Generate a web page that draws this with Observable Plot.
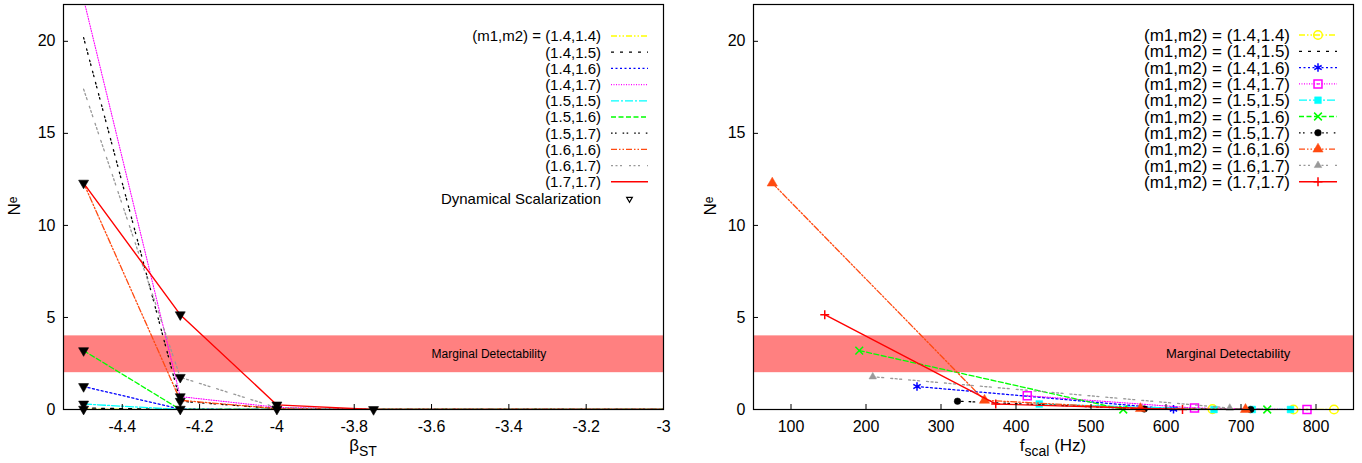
<!DOCTYPE html>
<html><head><meta charset="utf-8">
<script src="https://cdn.jsdelivr.net/npm/d3@7"></script>
<script src="https://cdn.jsdelivr.net/npm/@observablehq/plot@0.6"></script>
<style>
body{margin:0;background:#fff;}
#wrap{display:flex;width:1362px;height:463px;overflow:hidden;}
svg text{font-family:"Liberation Sans",Arial,Helvetica,sans-serif;}
</style></head><body><div id="wrap"></div>
<script>
// ---------- data ----------
const massPairs = ["(1.4,1.4)","(1.4,1.5)","(1.4,1.6)","(1.4,1.7)","(1.5,1.5)","(1.5,1.6)","(1.5,1.7)","(1.6,1.6)","(1.6,1.7)","(1.7,1.7)"];

// left panel: N_e versus beta_ST
const betaValues = [-4.5, -4.25, -4, -3.75, -3.5, -3.25, -3];
const neBeta_14_14 = [0.02, 0, 0, 0, 0, 0, 0];
const neBeta_14_15 = [0.08, 0, 0, 0, 0, 0, 0];
const neBeta_14_16 = [1.25, 0.02, 0, 0, 0, 0, 0];
const neBeta_14_17 = [22.3, 0.7, 0.12, 0, 0, 0, 0];
const neBeta_15_15 = [0.3, 0, 0, 0, 0, 0, 0];
const neBeta_15_16 = [3.2, 0, 0, 0, 0, 0, 0];
const neBeta_15_17 = [20.2, 0.45, 0.05, 0, 0, 0, 0];
const neBeta_16_16 = [12.3, 0.5, 0.05, 0, 0, 0, 0];
const neBeta_16_17 = [17.4, 1.75, 0.1, 0, 0, 0, 0];
const neBeta_17_17 = [12.3, 5.15, 0.25, 0, 0, 0, 0];

// dynamical scalarization points (left panel)
const dynBeta = [-4.5, -4.5, -4.5, -4.5, -4.5, -4.25, -4.25, -4.25, -4.25, -4.25, -4, -4, -3.75];
const dynNe   = [12.3, 3.2, 1.25, 0.3, 0.02, 5.15, 1.75, 0.7, 0.45, 0.02, 0.25, 0.02, 0];

// right panel: N_e versus f_scal (Hz)
const fscal_14_14 = [662, 770, 824];      const neF_14_14 = [0.02, 0, 0];
const fscal_14_15 = [600, 740];           const neF_14_15 = [0.08, 0];
const fscal_14_16 = [268, 610];           const neF_14_16 = [1.25, 0.02];
const fscal_14_17 = [415, 638, 788];      const neF_14_17 = [0.75, 0.08, 0];
const fscal_15_15 = [431, 664, 715, 766]; const neF_15_15 = [0.3, 0, 0, 0];
const fscal_15_16 = [191, 543, 735];      const neF_15_16 = [3.2, 0, 0];
const fscal_15_17 = [322, 571, 713];      const neF_15_17 = [0.45, 0.03, 0];
const fscal_16_16 = [75, 358, 566, 706];  const neF_16_16 = [12.3, 0.5, 0.05, 0];
const fscal_16_17 = [209, 685];           const neF_16_17 = [1.78, 0.08];
const fscal_17_17 = [145, 373, 622];      const neF_17_17 = [5.15, 0.3, 0];

const bandRange = [2, 4];
const bandLabel = "Marginal Detectability";
const betaTicks = [-4.4, -4.2, -4, -3.8, -3.6, -3.4, -3.2, -3];
const fTicks = [100, 200, 300, 400, 500, 600, 700, 800];
const neTicks = [0, 5, 10, 15, 20];

// ---------- styles ----------
const colors = ["#ffff00","#000000","#0000ff","#ff00ff","#00ffff","#00ff00","#000000","#ff4a10","#999999","#ff0000"];
const dashes = ["6,2,1.5,2,1.5,2","3,6","2,2.5","1,1.5","8,2,2,2","5,2.5","1.6,2.4,1.6,6","6,2,1.5,2,1.5,2","2,2.5,2,2.5,2,7",null];
const widths = [1.3,1.3,1.3,1.1,1.3,1.3,1.3,1.3,1.3,1.4];
const markers = [
  {s:"circle", r:4.3, fill:"none"}, null,
  {s:"asterisk", r:4.0, fill:"none"},
  {s:"square", r:4.5, fill:"none", dot:true},
  {s:"square", r:3.8, fill:"fill"},
  {s:"times", r:3.6, fill:"none"},
  {s:"circle", r:3.3, fill:"fill"},
  {s:"triangle", r:3.8, fill:"fill"},
  {s:"triangle", r:2.8, fill:"fill"},
  {s:"plus", r:3.0, fill:"none"}
];

const neBetaAll = [neBeta_14_14,neBeta_14_15,neBeta_14_16,neBeta_14_17,neBeta_15_15,neBeta_15_16,neBeta_15_17,neBeta_16_16,neBeta_16_17,neBeta_17_17];
const fAll = [fscal_14_14,fscal_14_15,fscal_14_16,fscal_14_17,fscal_15_15,fscal_15_16,fscal_15_17,fscal_16_16,fscal_16_17,fscal_17_17];
const neFAll = [neF_14_14,neF_14_15,neF_14_16,neF_14_17,neF_15_15,neF_15_16,neF_15_17,neF_16_16,neF_16_17,neF_17_17];

const FONT = "Liberation Sans, Arial, Helvetica, sans-serif";
const d3Sym = {circle:d3.symbolCircle, asterisk:d3.symbolAsterisk, square:d3.symbolSquare, times:d3.symbolTimes, triangle:d3.symbolTriangle, plus:d3.symbolPlus};

function commonMarks(labelX, labelSize){
  return [
    Plot.rect([bandRange], {y1: d => d[0], y2: d => d[1], fill: "#ff8080"}),
    Plot.text([bandLabel], {x: labelX, y: (bandRange[0]+bandRange[1])/2, text: d => d, textAnchor: "start", fontSize: labelSize, fill: "black"})
  ];
}
function axes(xt, fs){
  return [
    Plot.axisX({ticks: xt, tickSize: -5, tickPadding: 16, tickFormat: d => String(d), label: null, fontSize: fs}),
    Plot.axisY({ticks: neTicks, tickSize: -5, tickPadding: 13, tickFormat: d => String(d), label: null, fontSize: fs}),
    Plot.frame({stroke: "black", strokeWidth: 1.2})
  ];
}

// ---------- left panel ----------
const leftMarks = [...commonMarks(-3.6, 12)];
massPairs.forEach((m, i) => {
  const rows = betaValues.map((b, j) => ({x: b, y: neBetaAll[i][j]}));
  leftMarks.push(Plot.line(rows, {x: "x", y: "y", stroke: colors[i], strokeDasharray: dashes[i], strokeWidth: widths[i], clip: true}));
});
const dynRows = dynBeta.map((b, j) => ({x: b, y: dynNe[j]}));
leftMarks.push(Plot.dot(dynRows, {x: "x", y: "y", symbol: "triangle", r: 3.7, fill: "black", stroke: "black", strokeWidth: 0.6, rotate: 180}));
leftMarks.push(...axes(betaTicks, 16));

const left = Plot.plot({
  width: 681, height: 463, marginLeft: 63, marginRight: 18, marginTop: 4, marginBottom: 54,
  x: {domain: [-4.552, -3]}, y: {domain: [0, 22]},
  style: {fontFamily: FONT, fontSize: "16px", background: "white", overflow: "visible"},
  marks: leftMarks
});

// ---------- right panel ----------
const rightMarks = [...commonMarks(600, 13)];
massPairs.forEach((m, i) => {
  const rows = fAll[i].map((f, j) => ({x: f, y: neFAll[i][j]}));
  rightMarks.push(Plot.line(rows, {x: "x", y: "y", stroke: colors[i], strokeDasharray: dashes[i], strokeWidth: widths[i], clip: true}));
  const mk = markers[i];
  if (mk) {
    rightMarks.push(Plot.dot(rows, {x: "x", y: "y", symbol: mk.s, r: mk.r,
      fill: mk.fill === "fill" ? colors[i] : "none", stroke: colors[i], strokeWidth: mk.fill === "fill" ? 0.5 : 1.5}));
    if (mk.dot) rightMarks.push(Plot.dot(rows, {x: "x", y: "y", r: 0.9, fill: colors[i]}));
  }
});
rightMarks.push(...axes(fTicks, 16));

const right = Plot.plot({
  width: 681, height: 463, marginLeft: 72, marginRight: 9, marginTop: 4, marginBottom: 54,
  x: {domain: [50, 850]}, y: {domain: [0, 22]},
  style: {fontFamily: FONT, fontSize: "16px", background: "white", overflow: "visible"},
  marks: rightMarks
});

// ---------- legends and axis titles ----------
function drawMarker(g, i, x, y){
  const mk = markers[i];
  if (!mk) return;
  const p = d3.symbol(d3Sym[mk.s], Math.PI * mk.r * mk.r)();
  g.append("path").attr("d", p).attr("transform", `translate(${x},${y})`)
    .attr("fill", mk.fill === "fill" ? colors[i] : "none").attr("stroke", colors[i])
    .attr("stroke-width", mk.fill === "fill" ? 0.5 : 1.5);
  if (mk.dot) g.append("circle").attr("cx", x).attr("cy", y).attr("r", 0.9).attr("fill", colors[i]);
}
function legend(svg, cfg){
  const g = d3.select(svg).append("g").attr("font-family", FONT).attr("font-size", cfg.fs);
  massPairs.forEach((m, i) => {
    const y = cfg.y0 + i * cfg.step;
    g.append("text").attr("x", cfg.tx).attr("y", y).attr("dy", "0.36em").attr("text-anchor", "end")
      .attr("fill", "black").text((cfg.all || i === 0) ? `(m1,m2) = ${m}` : m);
    g.append("line").attr("x1", cfg.l1).attr("x2", cfg.l2).attr("y1", y).attr("y2", y)
      .attr("stroke", colors[i]).attr("stroke-width", widths[i]).attr("stroke-dasharray", dashes[i]);
    if (cfg.markers) drawMarker(g, i, (cfg.l1 + cfg.l2) / 2, y);
  });
  if (cfg.extra) {
    const y = cfg.y0 + massPairs.length * cfg.step + 1;
    g.append("text").attr("x", cfg.tx).attr("y", y).attr("dy", "0.36em").attr("text-anchor", "end")
      .attr("fill", "black").text(cfg.extra);
    g.append("path").attr("d", d3.symbol(d3.symbolTriangle, 14)()).attr("transform", `translate(${(cfg.l1 + cfg.l2) / 2},${y}) rotate(180)`)
      .attr("fill", "none").attr("stroke", "black").attr("stroke-width", 1.2);
  }
}
legend(left, {tx: 601, l1: 611, l2: 648, y0: 36, step: 16.2, fs: 15, all: false, markers: false, extra: "Dynamical Scalarization"});
legend(right, {tx: 609, l1: 618, l2: 656, y0: 35, step: 16.3, fs: 17, all: true, markers: true});

function titles(svg, cfg){
  const s = d3.select(svg);
  const t = s.append("text").attr("x", cfg.xx).attr("y", 451).attr("text-anchor", "middle")
    .attr("font-family", FONT).attr("font-size", 17).attr("fill", "black");
  t.append("tspan").text(cfg.main);
  t.append("tspan").attr("font-size", 14).attr("dy", 5).text(cfg.sub);
  if (cfg.tail) t.append("tspan").attr("dy", -5).text(cfg.tail);
  const n = s.append("text").attr("transform", `translate(${cfg.nx},206) rotate(-90)`).attr("text-anchor", "middle")
    .attr("font-family", FONT).attr("font-size", 17).attr("fill", "black");
  n.append("tspan").text("N");
  n.append("tspan").attr("font-size", 12).attr("dy", -3).text("e");
}
titles(left, {xx: 363, main: "β", sub: "ST", nx: 20});
titles(right, {xx: 372, main: "f", sub: "scal", tail: " (Hz)", nx: 35});

document.getElementById("wrap").append(left, right);
</script></body></html>
